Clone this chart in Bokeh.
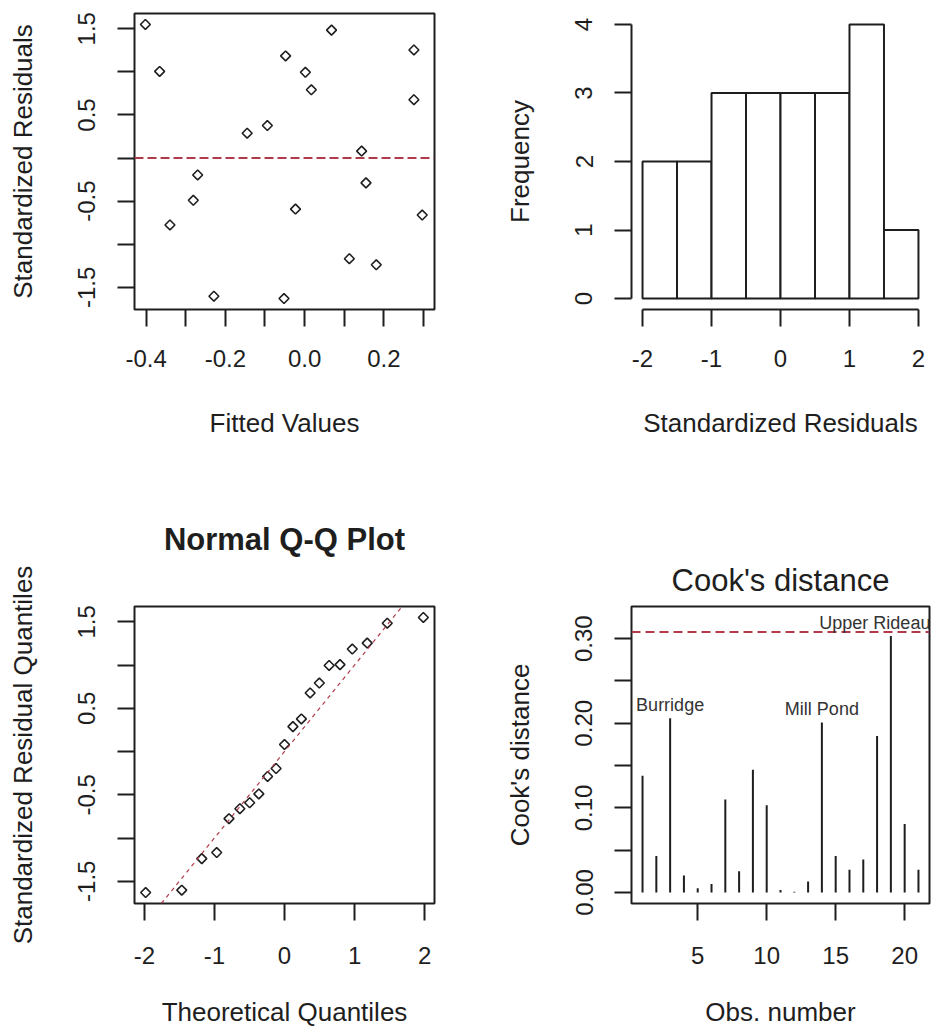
import numpy as np
from bokeh.plotting import figure
from bokeh.models import Range1d, FixedTicker, Label, Span, Slope, LinearAxis
from bokeh.layouts import gridplot
from bokeh.embed import file_html
from bokeh.resources import INLINE

# ---- data -------------------------------------------------------------
fitted = [-0.402, -0.366, -0.340, -0.281, -0.270, -0.229, -0.145, -0.094,
          -0.052, -0.048, -0.023, 0.002, 0.017, 0.068, 0.113, 0.144, 0.155,
          0.181, 0.276, 0.276, 0.297]
std_resid = [1.55, 1.005, -0.776, -0.49, -0.196, -1.603, 0.288, 0.377,
             -1.63, 1.185, -0.592, 0.995, 0.792, 1.484, -1.168, 0.081, -0.288,
             -1.238, 1.254, 0.677, -0.661]

hist_edges = [-2.0, -1.5, -1.0, -0.5, 0.0, 0.5, 1.0, 1.5, 2.0]
hist_counts = [2, 2, 3, 3, 3, 3, 4, 1]

qq_theoretical = [-1.981, -1.466, -1.180, -0.967, -0.792, -0.637, -0.497,
                  -0.366, -0.241, -0.120, 0.0, 0.120, 0.241, 0.366, 0.497,
                  0.637, 0.792, 0.967, 1.180, 1.466, 1.981]
qq_line_intercept = 0.0
qq_line_slope = 1.0

obs_number = list(range(1, 22))
cooks_d = [0.138, 0.043, 0.206, 0.020, 0.005, 0.010, 0.110, 0.025, 0.145,
           0.103, 0.003, 0.001, 0.013, 0.201, 0.043, 0.027, 0.039, 0.185,
           0.303, 0.081, 0.027]
cooks_cutoff = 0.308
site_labels = {3: "Burridge", 14: "Mill Pond", 19: "Upper Rideau"}

resid_ticks = [-1.5, -1.0, -0.5, 0.0, 0.5, 1.0, 1.5]
resid_tick_labels = ["-1.5", "", "-0.5", "", "0.5", "", "1.5"]
fitted_ticks = [-0.4, -0.3, -0.2, -0.1, 0.0, 0.1, 0.2, 0.3]
fitted_tick_labels = ["-0.4", "", "-0.2", "", "0.0", "", "0.2", ""]
hist_x_ticks = [-2, -1, 0, 1, 2]
hist_x_labels = ["-2", "-1", "0", "1", "2"]
freq_ticks = [0, 1, 2, 3, 4]
freq_labels = ["0", "1", "2", "3", "4"]
qq_x_ticks = [-2, -1, 0, 1, 2]
qq_x_labels = ["-2", "-1", "0", "1", "2"]
cook_y_ticks = [0.0, 0.05, 0.10, 0.15, 0.20, 0.25, 0.30]
cook_y_labels = ["0.00", "", "0.10", "", "0.20", "", "0.30"]
obs_ticks = [5, 10, 15, 20]
obs_labels = ["5", "10", "15", "20"]

# ---- styling ----------------------------------------------------------
FONT = "Liberation Sans"
INK = "#1e1e1e"
RED = "#b03a4a"
TICK_FS = "24px"
LAB_FS = "26px"
TITLE_FS = "31px"


def make_fig(w, h, left, right, top, bottom, xr, yr, boxed=True):
    p = figure(width=w, height=h, x_range=Range1d(*xr), y_range=Range1d(*yr),
               output_backend="svg", toolbar_location=None, title=None,
               min_border_left=left, min_border_right=right,
               min_border_top=top, min_border_bottom=bottom)
    p.grid.visible = False
    p.background_fill_color = "white"
    p.border_fill_color = "white"
    if boxed:
        p.outline_line_color = INK
        p.outline_line_width = 2
    else:
        p.outline_line_color = None
    return p


def style_axes(p, xt, xl, xtitle, yt, yl, ytitle, boxed=True,
               x_label_gap=23, x_title_gap=38):
    xax, yax = p.below[0], p.left[0]
    for ax, ticks, labels, title in ((xax, xt, xl, xtitle),
                                     (yax, yt, yl, ytitle)):
        ax.ticker = FixedTicker(ticks=ticks, minor_ticks=[])
        ax.major_label_overrides = {t: l for t, l in zip(ticks, labels)}
        ax.axis_label = title
        ax.axis_label_text_font = FONT
        ax.axis_label_text_font_size = LAB_FS
        ax.axis_label_text_font_style = "normal"
        ax.axis_label_text_color = INK
        ax.major_label_text_font = FONT
        ax.major_label_text_font_size = TICK_FS
        ax.major_label_text_color = INK
        ax.major_tick_in = 0
        ax.major_tick_out = 17
        ax.major_tick_line_width = 2
        ax.major_tick_line_color = INK
        ax.minor_tick_line_color = None
        if boxed:
            ax.axis_line_color = None
        else:
            ax.axis_line_color = INK
            ax.axis_line_width = 2
            ax.bounds = (min(ticks), max(ticks))
    yax.major_label_orientation = "vertical"
    yax.major_label_standoff = 22
    yax.axis_label_standoff = 38
    xax.major_label_standoff = x_label_gap
    xax.axis_label_standoff = x_title_gap


def add_heading(p, text, standoff, bold):
    # heading drawn as the label of a tickless axis above the frame
    ax = LinearAxis(ticker=FixedTicker(ticks=[], minor_ticks=[]),
                    axis_label=text, axis_label_standoff=standoff,
                    major_tick_out=0, major_tick_in=0, minor_tick_out=0,
                    minor_tick_in=0, major_label_standoff=0,
                    axis_line_color=None, major_tick_line_color=None,
                    minor_tick_line_color=None,
                    axis_label_text_font=FONT,
                    axis_label_text_font_size=TITLE_FS,
                    axis_label_text_font_style="bold" if bold else "normal",
                    axis_label_text_color=INK)
    p.add_layout(ax, "above")


# ---- residuals vs fitted ----------------------------------------------
p1 = make_fig(470, 515, 134, 36, 12, 206, (-0.4295, 0.328), (-1.757, 1.677))
p1.add_layout(Span(location=0, dimension="width", line_color=RED,
                   line_width=2, line_dash="9 4"))
p1.scatter(fitted, std_resid, marker="square", angle=np.pi / 4, size=7,
           fill_color=None, line_color=INK, line_width=1.6)
style_axes(p1, fitted_ticks, fitted_tick_labels, "Fitted Values",
           resid_ticks, resid_tick_labels, "Standardized Residuals")

# ---- histogram of residuals -------------------------------------------
p2 = make_fig(477, 515, 161, 17, 13, 205, (-2.16, 2.16), (-0.16, 4.16),
              boxed=False)
p2.quad(left=hist_edges[:-1], right=hist_edges[1:], bottom=0, top=hist_counts,
        fill_color="white", line_color=INK, line_width=2)
style_axes(p2, hist_x_ticks, hist_x_labels, "Standardized Residuals",
           freq_ticks, freq_labels, "Frequency", boxed=False)

# ---- normal Q-Q --------------------------------------------------------
p3 = make_fig(470, 515, 134, 36, 90, 127, (-2.14, 2.14), (-1.757, 1.677))
p3.add_layout(Slope(gradient=qq_line_slope, y_intercept=qq_line_intercept,
                    line_color=RED, line_width=1.2, line_dash="4 4"))
p3.scatter(qq_theoretical, sorted(std_resid), marker="square",
           angle=np.pi / 4, size=7, fill_color=None, line_color=INK,
           line_width=1.6)
style_axes(p3, qq_x_ticks, qq_x_labels, "Theoretical Quantiles",
           resid_ticks, resid_tick_labels, "Standardized Residual Quantiles",
           x_label_gap=26, x_title_gap=30)
add_heading(p3, "Normal Q-Q Plot", 50, bold=True)

# ---- Cook's distance ---------------------------------------------------
p4 = make_fig(477, 515, 160, 18, 91, 127, (0.2, 21.8), (-0.013, 0.338))
p4.segment(x0=obs_number, y0=0, x1=obs_number, y1=cooks_d,
           line_color=INK, line_width=2)
p4.add_layout(Span(location=cooks_cutoff, dimension="width", line_color=RED,
                   line_width=2, line_dash="9 5"))
# keep the right-most name inside the frame
label_nudge = {19: -16}
for i, name in site_labels.items():
    p4.add_layout(Label(x=obs_number[i - 1], y=cooks_d[i - 1], text=name,
                        text_align="center", text_baseline="alphabetic",
                        x_offset=label_nudge.get(i, 0), y_offset=13,
                        text_font=FONT, text_font_size="18px",
                        text_color="#333333"))
style_axes(p4, obs_ticks, obs_labels, "Obs. number",
           cook_y_ticks, cook_y_labels, "Cook's distance",
           x_label_gap=26, x_title_gap=30)
add_heading(p4, "Cook's distance", 9, bold=False)

grid = gridplot([[p1, p2], [p3, p4]], toolbar_location=None)

open("out.html", "w").write(file_html(grid, INLINE))
